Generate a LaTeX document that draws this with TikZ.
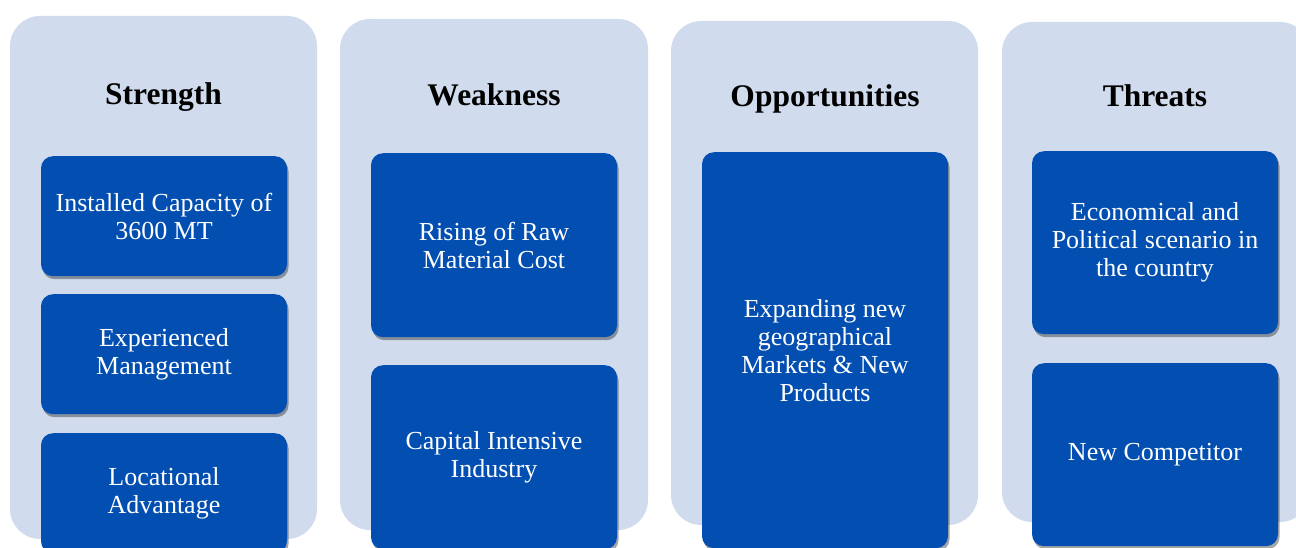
\documentclass[tikz,border=0pt]{standalone}
\usepackage{fontspec}
\setmainfont{Liberation Serif}
\usetikzlibrary{shadows}
\tikzstyle{swotSheet} = [x = 1pt, y = -1pt]
\definecolor{panelColor}{RGB}{208,220,238}
\definecolor{boxColor}{RGB}{3,79,177}
\tikzstyle{panelStyle} = [fill=panelColor, rounded corners = 30pt]
\tikzstyle{titleText} = [font=\bfseries\fontsize{31.5}{36}\selectfont, anchor=base]
\tikzstyle{boxStyle} = [fill=boxColor, rounded corners = 12pt, minimum width = 246pt, inner sep = 0pt, text=white, align=center, font=\fontsize{26}{28}\selectfont, drop shadow={shadow xshift=1.5pt, shadow yshift=-3pt, opacity=.35, fill=black}]
\newcommand{\swotPanel}[4]{\fill [panelStyle] (#1, #2) rectangle (#3, #4);}
\newcommand{\swotBox}[5]{\node [boxStyle, anchor=north, minimum height=#4pt] (#1) at (#2, #3) {#5};}
\begin{document}
\begin{tikzpicture}[swotSheet]
  \useasboundingbox (0, 0) rectangle (1296, 548);
  \clip (0, 0) rectangle (1296, 548);
  % panels
  \swotPanel{10}{16}{317}{539}
  \swotPanel{340}{19}{648}{530}
  \swotPanel{671}{21}{978}{525}
  \swotPanel{1002}{22}{1310}{522}
  % titles
  \node [titleText] (strengthTitle) at (163.5, 105) {Strength};
  \node [titleText] (weaknessTitle) at (494, 106) {Weakness};
  \node [titleText] (opportunitiesTitle) at (825, 107) {Opportunities};
  \node [titleText] (threatsTitle) at (1155, 107) {Threats};
  % strength
  \swotBox{capacity}{164}{156}{120}{Installed Capacity of\\3600 MT}
  \swotBox{management}{164}{294}{120}{Experienced\\Management}
  \swotBox{location}{164}{433}{120}{Locational\\Advantage}
  % weakness
  \swotBox{rawMaterial}{494}{153}{184}{Rising of Raw\\Material Cost}
  \swotBox{capital}{494}{365}{184}{Capital Intensive\\Industry}
  % opportunities
  \swotBox{markets}{825}{152}{396}{Expanding new\\geographical\\Markets \& New\\Products}
  % threats
  \swotBox{scenario}{1155}{151}{183}{Economical and\\Political scenario in\\the country}
  \swotBox{competitor}{1155}{363}{183}{New Competitor}
\end{tikzpicture}
\end{document}
